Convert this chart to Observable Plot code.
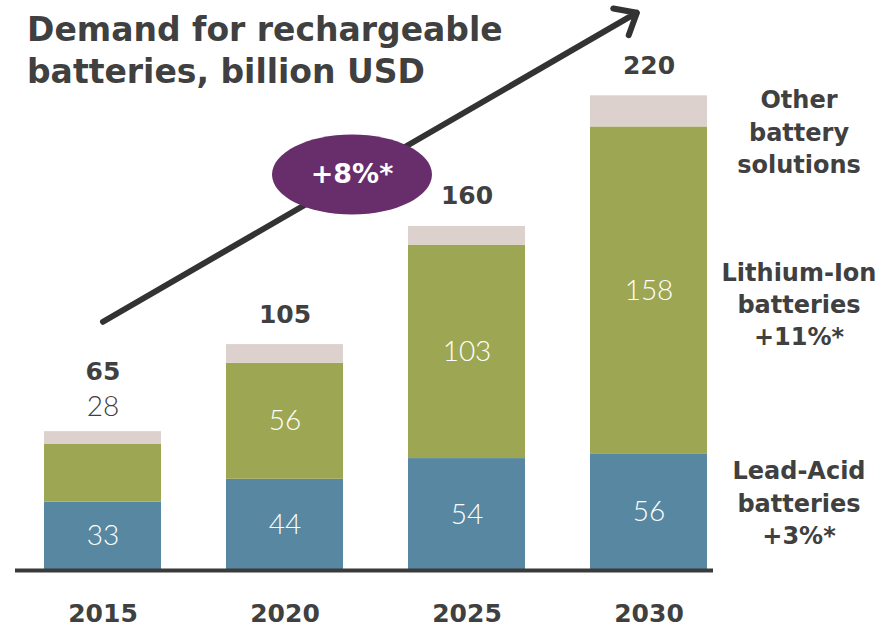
<!DOCTYPE html>
<html><head><meta charset="utf-8">
<script src="https://cdn.jsdelivr.net/npm/d3@7"></script>
<script src="https://cdn.jsdelivr.net/npm/@observablehq/plot@0.6"></script>
<style>
body{margin:0;background:#fff;}
#wrap{position:relative;width:889px;height:628px;}
#title{position:absolute;left:27px;top:9px;font-family:"DejaVu Sans";font-weight:bold;font-size:33px;color:#404040;line-height:42px;}
#chart{position:absolute;left:0;top:0;}
</style></head><body>
<div id="wrap"><div id="chart"></div><div id="title">Demand for rechargeable<br>batteries, billion USD</div></div>
<script>
const years = ["2015", "2020", "2025", "2030"];
const leadAcid = [33, 44, 54, 56];
const lithiumIon = [28, 56, 103, 158];
const otherSolutions = [6, 9, 9, 15]; // not labelled
const totals = [65, 105, 160, 220];
const segments = ["Lead-Acid", "Lithium-Ion", "Other"];
const segmentLabels = ["Lead-Acid\nbatteries\n+3%*", "Lithium-Ion\nbatteries\n+11%*", "Other\nbattery\nsolutions"];
const cagr = "+8%*";
const colors = ["#5888a1", "#9da753", "#ddd1ce"];

const series = [leadAcid, lithiumIon, otherSolutions];
const rows = [];
years.forEach((yr, i) => {
  let base = 0;
  series.forEach((s, k) => {
    rows.push({year: yr, segment: segments[k], value: s[i], y1: base, y2: base + s[i], mid: base + s[i] / 2});
    base += s[i];
  });
});
const tops = years.map((yr, i) => ({year: yr, top: leadAcid[i] + lithiumIon[i] + otherSolutions[i], total: totals[i]}));
const inside = rows.filter(d => d.segment !== "Other" && !(d.year === "2015" && d.segment === "Lithium-Ion"));
const outside = rows.filter(d => d.year === "2015" && d.segment === "Lithium-Ion").map(d => ({...d, top: tops[0].top}));
const last = rows.filter(d => d.year === "2030");
const arrowData = [{x1: "2015", y1: 120, x2: "2030", y2: 272.5}];
const bubble = [{year: "2020", y: 191, label: cagr}];

const ellipseSymbol = {
  draw(ctx, size) {
    const r = Math.sqrt(size / Math.PI), rx = 2 * r, ry = r, k = 0.5523;
    ctx.moveTo(rx, 0);
    ctx.bezierCurveTo(rx, ry * k, rx * k, ry, 0, ry);
    ctx.bezierCurveTo(-rx * k, ry, -rx, ry * k, -rx, 0);
    ctx.bezierCurveTo(-rx, -ry * k, -rx * k, -ry, 0, -ry);
    ctx.bezierCurveTo(rx * k, -ry, rx, -ry * k, rx, 0);
    ctx.closePath();
  }
};

const labelDy = [-11, 12, 19];
const sideMarks = segments.map((s, k) => Plot.text(last.filter(d => d.segment === s), {
  x: "year", y: "mid", text: () => segmentLabels[k], dx: 150, dy: labelDy[k],
  fontSize: 24, fontWeight: "bold", fill: "#404040", lineHeight: 1.35, textAnchor: "middle"
}));

const chart = Plot.plot({
  width: 889, height: 628,
  marginTop: 0, marginBottom: 58, marginLeft: 24, marginRight: 162,
  style: {fontFamily: "DejaVu Sans", color: "#404040", background: "white"},
  x: {type: "band", domain: years, paddingInner: 0.355, paddingOuter: 0.1, label: null},
  y: {domain: [0, 275], axis: null},
  color: {domain: segments, range: colors},
  marks: [
    Plot.barY(rows, {x: "year", y1: "y1", y2: "y2", fill: "segment"}),
    Plot.ruleY([0], {stroke: "#3a3a3a", strokeWidth: 4, insetLeft: -9, insetRight: 14}),
    Plot.text(inside, {x: "year", y: "mid", text: "value", fill: "white", fontSize: 28, fontFamily: "Lato", fontWeight: 300}),
    Plot.text(outside, {x: "year", y: "top", text: "value", fill: "#404040", fontSize: 28, fontFamily: "Lato", fontWeight: 300, dy: -25}),
    Plot.text(tops.filter(d => d.year !== "2015"), {x: "year", y: "top", text: "total", fontSize: 25, fontWeight: "bold", fill: "#404040", dy: -30}),
    Plot.text(tops.filter(d => d.year === "2015"), {x: "year", y: "top", text: "total", fontSize: 25, fontWeight: "bold", fill: "#404040", dy: -60}),
    Plot.arrow(arrowData, {x1: "x1", y1: "y1", x2: "x2", y2: "y2", stroke: "#333333", strokeWidth: 6, headLength: 6, headAngle: 80, insetEnd: 14}),
    Plot.dot(bubble, {x: "year", y: "y", r: 40, symbol: ellipseSymbol, fill: "#672e6b", stroke: "none", dx: 67}),
    Plot.text(bubble, {x: "year", y: "y", text: "label", dx: 67, fill: "white", fontSize: 27, fontWeight: "bold"}),
    ...sideMarks,
    Plot.axisX({tickSize: 0, tickPadding: 34, fontSize: 25, fontWeight: "bold", fill: "#404040"})
  ]
});
document.getElementById("chart").appendChild(chart);
</script>
</body></html>
